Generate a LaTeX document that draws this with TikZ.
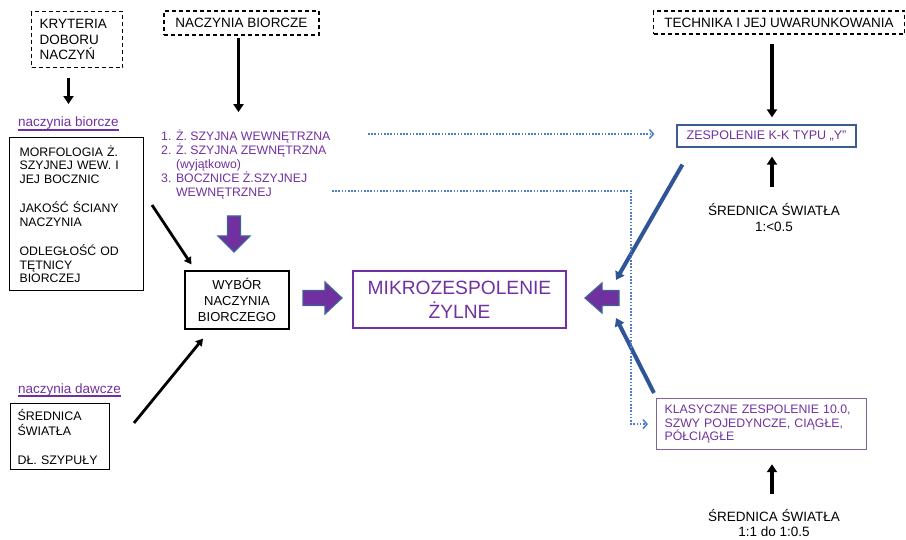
\documentclass[tikz,border=0pt]{standalone}
\usepackage{fontspec}
\setmainfont{Liberation Sans}
\usetikzlibrary{arrows.meta,positioning,calc}

\definecolor{vein}{RGB}{112,48,160}
\definecolor{klasline}{RGB}{128,100,162}
\definecolor{zespline}{RGB}{60,92,145}
\definecolor{arrline}{RGB}{65,100,150}
\definecolor{dotblue}{RGB}{74,126,200}
\definecolor{navy}{RGB}{47,85,151}

\begin{document}
\begin{tikzpicture}[x=1pt,y=-1pt,
  txt/.style={inner sep=0pt,font=\fontsize{13.5}{16}\selectfont},
  box/.style={draw,line width=1.2pt,inner sep=0pt,font=\fontsize{12.5}{14.5}\selectfont},
  dashbox/.style={box,dash pattern=on 4pt off 3pt,font=\fontsize{13.5}{15.5}\selectfont},
  lbl/.style={inner sep=0pt,text=vein,font=\fontsize{13.5}{15}\selectfont},
  fatarrow/.style={line width=3.5pt,-{Triangle[width=10pt,length=8pt]}},
  thinarrow/.style={line width=2.8pt,-{Triangle[width=8pt,length=7pt]}},
  bluearrow/.style={navy,line width=4pt,-{Triangle[width=10pt,length=8pt]}},
  dotarrow/.style={dotblue,line width=1.6pt,dash pattern=on 1.6pt off 1.6pt,
    -{Straight Barb[length=4pt,width=9pt,line width=1.5pt]}},
  blockarr/.style={fill=vein,draw=arrline,line width=1.2pt,line join=miter}]
  \useasboundingbox (0,0) rectangle (906,540);

  % top row
  \node[dashbox,anchor=north west,minimum width=91pt,minimum height=56pt,
    text width=75pt,inner xsep=8pt,align=left] (kryt) at (31,11) {KRYTERIA\\DOBORU\\NACZYŃ};
  \node[dashbox,minimum width=155pt,minimum height=24pt] (nacz) at (241.5,23) {NACZYNIA BIORCZE};
  \node[dashbox,minimum width=251pt,minimum height=23pt] (tech) at (779,22.5) {TECHNIKA I JEJ UWARUNKOWANIA};

  % left column
  \node[lbl,anchor=base west] (lblR) at (18,127) {naczynia biorcze};
  \draw[vein,line width=1.4pt] (lblR.south west) -- (lblR.south east);
  \node[box,anchor=north west,minimum width=134pt,minimum height=153pt,
    text width=114pt,inner xsep=10pt,align=left,font=\fontsize{12.3}{13.5}\selectfont]
    (morf) at (9,137) {MORFOLOGIA Ż.\\SZYJNEJ WEW. I\\JEJ BOCZNIC\\[16pt]JAKOŚĆ ŚCIANY\\NACZYNIA\\[16pt]ODLEGŁOŚĆ OD\\TĘTNICY\\BIORCZEJ};
  \node[lbl,anchor=base west] (lblD) at (18,393) {naczynia dawcze};
  \draw[vein,line width=1.4pt] (lblD.south west) -- (lblD.south east);
  \node[box,anchor=north west,minimum width=99pt,minimum height=66pt,
    text width=85pt,inner xsep=7pt,align=left,font=\fontsize{12.4}{15}\selectfont]
    (dawc) at (10,403) {ŚREDNICA\\ŚWIATŁA\\[14pt]DŁ. SZYPUŁY};

  % middle
  \node[txt,text=vein,anchor=west,align=left,font=\fontsize{12.3}{14}\selectfont] (list) at (161,164)
    {1. Ż. SZYJNA WEWNĘTRZNA\\2. Ż. SZYJNA ZEWNĘTRZNA\\\phantom{2. }(wyjątkowo)\\3. BOCZNICE Ż.SZYJNEJ\\\phantom{3. }WEWNĘTRZNEJ};
  \node[box,minimum width=104pt,minimum height=58pt,align=center,font=\fontsize{13}{16}\selectfont]
    (wyb) at (237,300) {WYBÓR\\NACZYNIA\\BIORCZEGO};
  \node[box,draw=vein,line width=2pt,text=vein,minimum width=213pt,minimum height=57pt,
    align=center,font=\fontsize{19.2}{24}\selectfont] (mikro) at (459.5,299.5) {MIKROZESPOLENIE\\ŻYLNE};

  % right column
  \node[box,draw=zespline,text=vein,minimum width=179pt,minimum height=22pt] (zesp) at (766.5,136) {ZESPOLENIE K-K TYPU „Y”};
  \node[txt,align=center] (sr1) at (774,218) {ŚREDNICA ŚWIATŁA\\1:<0.5};
  \node[box,draw=klasline,text=vein,anchor=north west,minimum width=210pt,minimum height=51pt,
    text width=194pt,inner xsep=8pt,align=left,font=\fontsize{12.3}{13.5}\selectfont]
    (klas) at (656,398) {KLASYCZNE ZESPOLENIE 10.0,\\SZWY POJEDYNCZE, CIĄGŁE,\\PÓŁCIĄGŁE};
  \node[txt,align=center,font=\fontsize{13.5}{15}\selectfont] (sr2) at (774,523) {ŚREDNICA ŚWIATŁA\\1:1 do 1:0.5};

  % black arrows
  \draw[fatarrow,shorten <=10pt,shorten >=13pt] (lblR.north |- kryt.south) -- (lblR.north);
  \draw[fatarrow,shorten <=2pt,shorten >=17pt] ($(nacz.south)+(-3,0)$) -- ($(nacz.south |- list.north)+(-3,0)$);
  \draw[fatarrow,shorten <=9pt,shorten >=7pt] ($(tech.south -| sr1.north)+(-2,0)$) -- ($(zesp.north -| sr1.north)+(-2,0)$);
  \draw[fatarrow,shorten <=17pt,shorten >=9pt] ($(sr1.north)+(-2,0)$) -- ($(sr1.north |- zesp.south)+(-2,0)$);
  \draw[fatarrow,shorten <=15pt,shorten >=14pt] ($(sr2.north)+(-2,0)$) -- ($(sr2.north |- klas.south)+(-2,0)$);

  \coordinate (m1) at (152,205);
  \coordinate (d1) at (134,423);
  \draw[thinarrow] (m1) -- ($(wyb.north west)+(7,-6)$);
  \draw[thinarrow] (d1) -- ($(wyb.south)+(-34,9)$);

  % blue arrows
  \coordinate (k1) at (616,280);
  \coordinate (k2) at (616,318);
  \draw[bluearrow] ($(zesp.south west)+(6,17)$) -- (k1);
  \draw[bluearrow] ($(klas.north west)+(-2,-5)$) -- (k2);

  % dotted links
  \coordinate (dot1) at (368,134);
  \coordinate (dot2) at (332,191);
  \draw[dotarrow,shorten >=22pt] (dot1) -- (dot1 -| zesp.west);
  \draw[dotarrow,shorten >=8pt] (dot2) -| ($(klas.west)+(-25,0)$) -- (klas.west);

  % block arrows
  \filldraw[blockarr] (227.5,216) -- (240.5,216) -- (240.5,236) -- (250,236) -- (234,252)
    -- (218,236) -- (227.5,236) -- cycle;
  \filldraw[blockarr] (303,290.5) -- (325,290.5) -- (325,282) -- (342,298) -- (325,314)
    -- (325,305.5) -- (303,305.5) -- cycle;
  \filldraw[blockarr] (619,290.5) -- (602,290.5) -- (602,283) -- (585,298) -- (602,313)
    -- (602,305.5) -- (619,305.5) -- cycle;
\end{tikzpicture}
\end{document}
